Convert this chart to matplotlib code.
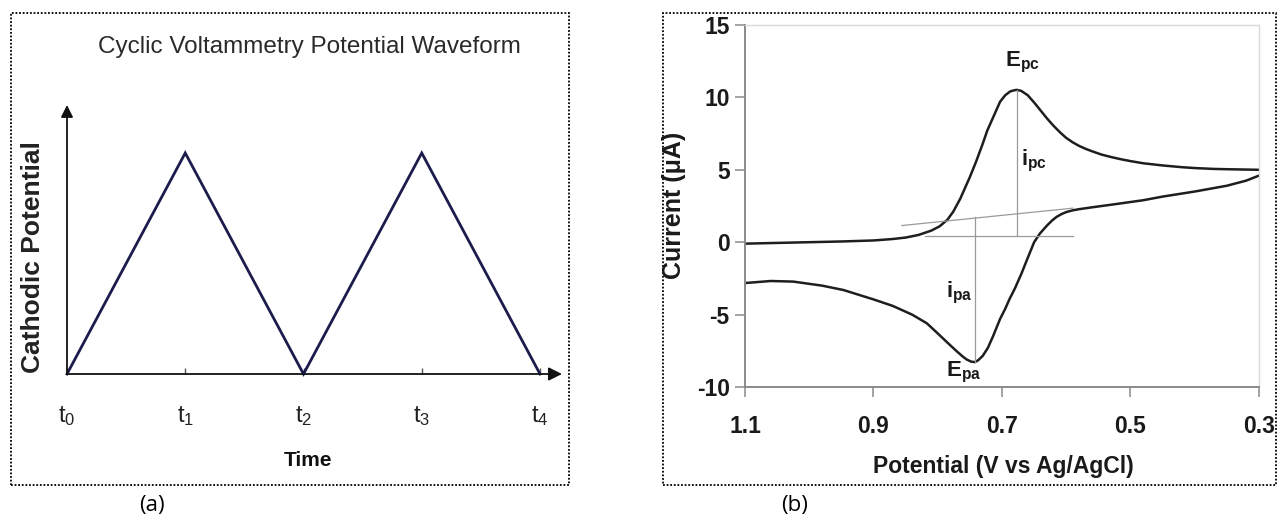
import matplotlib
matplotlib.use("Agg")
import matplotlib.pyplot as plt
from matplotlib.patches import Rectangle

plt.rcParams['font.family'] = ['Liberation Sans', 'DejaVu Sans']
plt.rcParams['mathtext.fontset'] = 'custom'
plt.rcParams['mathtext.rm'] = 'Liberation Sans'
plt.rcParams['mathtext.bf'] = 'Liberation Sans:bold'
plt.rcParams['mathtext.it'] = 'Liberation Sans:italic'

# ---- (a) triangular potential waveform ----
wave_t = [0, 1, 2, 3, 4]
wave_e = [0, 1, 0, 1, 0]
wave_labels = [r'$\mathrm{t_0}$', r'$\mathrm{t_1}$', r'$\mathrm{t_2}$',
               r'$\mathrm{t_3}$', r'$\mathrm{t_4}$']

# ---- (b) cyclic voltammogram ----
fwd_e = [1.10, 1.05, 1.00, 0.95, 0.90, 0.87, 0.85, 0.83, 0.81, 0.797, 0.785,
         0.776, 0.765, 0.75, 0.74, 0.73, 0.723, 0.71, 0.703, 0.695, 0.687,
         0.68, 0.677, 0.67, 0.66, 0.65, 0.64, 0.63, 0.62, 0.61, 0.60, 0.59,
         0.58, 0.57, 0.558, 0.545, 0.53, 0.515, 0.50, 0.48, 0.45, 0.42, 0.40,
         0.37, 0.35, 0.30]
fwd_i = [-0.10, -0.05, 0.00, 0.05, 0.12, 0.22, 0.32, 0.50, 0.80, 1.10, 1.55,
         2.10, 3.00, 4.50, 5.60, 6.80, 7.70, 9.00, 9.70, 10.15, 10.42,
         10.50, 10.52, 10.45, 10.15, 9.65, 9.10, 8.55, 8.05, 7.60, 7.20, 6.90,
         6.65, 6.45, 6.25, 6.05, 5.88, 5.73, 5.60, 5.45, 5.30, 5.18, 5.12,
         5.06, 5.04, 5.00]

rev_e = [0.30, 0.32, 0.35, 0.40, 0.45, 0.48, 0.52, 0.558, 0.58, 0.59, 0.60,
         0.607, 0.615, 0.622, 0.63, 0.641, 0.65, 0.661, 0.67, 0.68, 0.688,
         0.695, 0.703, 0.714, 0.722, 0.730, 0.737, 0.742, 0.748, 0.755, 0.761,
         0.770, 0.781, 0.80, 0.817, 0.84, 0.87, 0.90, 0.947, 0.98, 1.025,
         1.06, 1.10]
rev_i = [4.60, 4.25, 3.90, 3.50, 3.15, 2.90, 2.65, 2.42, 2.28, 2.20, 2.08,
         1.95, 1.75, 1.50, 1.15, 0.60, 0.00, -1.20, -2.20, -3.20, -3.90,
         -4.60, -5.30, -6.50, -7.30, -7.85, -8.15, -8.28, -8.25, -8.10, -7.90,
         -7.55, -7.10, -6.30, -5.60, -5.00, -4.40, -3.95, -3.30, -3.00, -2.72,
         -2.68, -2.82]

# peak construction lines
flat_base_e = [0.82, 0.59]
flat_base_i = [0.40, 0.40]
slope_base_e = [0.856, 0.59]
slope_base_i = [1.15, 2.35]
epc = (0.677, 10.52)
epa = (0.742, -8.28)
ipa_top = 1.72

pot_ticks = [1.1, 0.9, 0.7, 0.5, 0.3]
pot_labels = ['1.1', '0.9', '0.7', '0.5', '0.3']
cur_ticks = [-10, -5, 0, 5, 10, 15]
cur_labels = ['-10', '-5', '0', '5', '10', '15']

W, H = 1278, 525
fig = plt.figure(figsize=(W / 100, H / 100), dpi=100)
fig.patch.set_facecolor('white')


def box(x0, y0, x1, y1):
    return [x0 / W, 1 - y1 / H, (x1 - x0) / W, (y1 - y0) / H]


# dotted frames around both panels
for (x0, y0, x1, y1) in [(11, 13, 569, 485), (663, 13, 1276, 485)]:
    fig.patches.append(Rectangle((x0 / W, 1 - y1 / H), (x1 - x0) / W, (y1 - y0) / H,
                                 transform=fig.transFigure, fill=False,
                                 edgecolor='black', lw=1.3, linestyle=(0, (1, 1))))

# ---------------- panel (a) ----------------
axa = fig.add_axes(box(67, 105, 562, 374))
step = 118.25
axa.set_xlim(0, (562 - 67) / step)
axa.set_ylim(0, (374 - 105) / 221)
axa.plot(wave_t, wave_e, color='#1c1c4c', lw=2.0, solid_joinstyle='miter', clip_on=False)
for s in axa.spines.values():
    s.set_visible(False)
axa.annotate('', xy=(1, 0), xytext=(0, 0), xycoords='axes fraction',
             arrowprops=dict(arrowstyle='-|>', color='#111111', lw=1.3,
                             mutation_scale=20, shrinkA=0, shrinkB=0))
axa.annotate('', xy=(0, 1), xytext=(0, 0), xycoords='axes fraction',
             arrowprops=dict(arrowstyle='-|>', color='#111111', lw=1.3,
                             mutation_scale=18, shrinkA=0, shrinkB=0))
axa.set_xticks(wave_t)
axa.set_xticklabels(wave_labels, fontsize=17, color='#222222')
axa.tick_params(axis='x', direction='in', length=4, width=1, color='#555555', pad=22)
axa.set_yticks([])
axa.set_facecolor('none')

fig.text(309 / W, 1 - 47 / H, 'Cyclic Voltammetry Potential Waveform',
         fontsize=17.5, color='#2a2a2a', ha='center', va='center')
fig.text(33 / W, 1 - 257 / H, 'Cathodic Potential', rotation=90, fontsize=19,
         fontweight='bold', color='#222222', ha='center', va='center')
fig.text(308 / W, 1 - 460 / H, 'Time', fontsize=15, fontweight='bold',
         color='#111111', ha='center', va='center')
fig.text(152 / W, 1 - 506 / H, '(a)', fontsize=16, family=['Open Sans', 'DejaVu Sans'],
         ha='center', va='center')

# ---------------- panel (b) ----------------
axb = fig.add_axes(box(745, 25, 1259, 387))
axb.set_xlim(1.1, 0.3)
axb.set_ylim(-10, 15)
axb.plot(fwd_e, fwd_i, color='#1e1e1e', lw=1.8, solid_joinstyle='round')
axb.plot(rev_e, rev_i, color='#1e1e1e', lw=1.8, solid_joinstyle='round')

guide = dict(color='#9a9a9a', lw=0.9)
axb.plot(flat_base_e, flat_base_i, **guide)
axb.plot(slope_base_e, slope_base_i, **guide)
axb.plot([epc[0], epc[0]], [flat_base_i[0], epc[1]], **guide)
axb.plot([epa[0], epa[0]], [epa[1], ipa_top], **guide)

txt = dict(fontsize=16, color='#1a1a1a', ha='center', va='center')
axb.text(0.669, 12.4, r'$\mathbf{E_{pc}}$', **txt)
axb.text(0.650, 5.6, r'$\mathbf{i_{pc}}$', **txt)
axb.text(0.766, -3.5, r'$\mathbf{i_{pa}}$', **txt)
axb.text(0.760, -9.0, r'$\mathbf{E_{pa}}$', **txt)

axb.set_xticks(pot_ticks)
axb.set_xticklabels(pot_labels)
axb.set_yticks(cur_ticks)
axb.set_yticklabels(cur_labels)
axb.tick_params(direction='out', length=7, width=1.1, color='#8a8a8a',
                labelsize=16.5, labelcolor='#1a1a1a')
axb.tick_params(axis='x', pad=13)
axb.tick_params(axis='y', pad=4)
for lbl in axb.get_xticklabels() + axb.get_yticklabels():
    lbl.set_fontweight('bold')
for side in ('left', 'bottom'):
    axb.spines[side].set_color('#8a8a8a')
    axb.spines[side].set_linewidth(1.4)
for side in ('top', 'right'):
    axb.spines[side].set_color('#dadada')
    axb.spines[side].set_linewidth(1.0)

fig.text(1003 / W, 1 - 466 / H, 'Potential (V vs Ag/AgCl)', fontsize=16.5,
         fontweight='bold', color='#1a1a1a', ha='center', va='center')
fig.text(674 / W, 1 - 205 / H, 'Current (μA)', rotation=90, fontsize=18,
         fontweight='bold', color='#1a1a1a', ha='center', va='center')
fig.text(795 / W, 1 - 506 / H, '(b)', fontsize=16, family=['Open Sans', 'DejaVu Sans'],
         ha='center', va='center')

fig.savefig('out.png', dpi=100, facecolor='white')
